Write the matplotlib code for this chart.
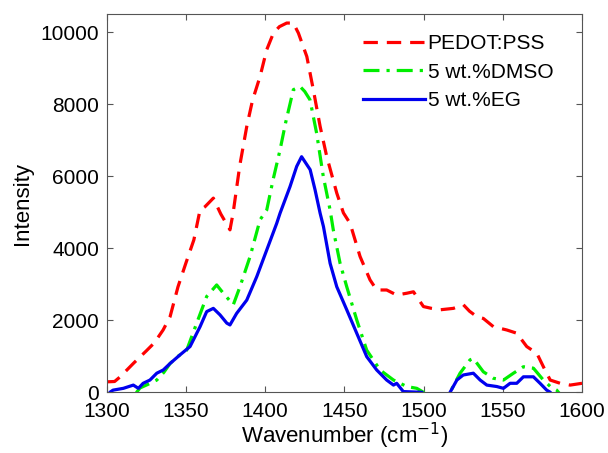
import matplotlib
matplotlib.use("Agg")
import numpy as np
import matplotlib.pyplot as plt

plt.rcParams["font.family"] = ["Liberation Sans", "DejaVu Sans"]

# Raman spectra, intensity vs wavenumber (cm^-1)
wn_pss = [1300, 1305, 1308.5, 1317, 1325, 1330, 1335.6, 1340, 1345, 1350, 1355,
          1358.9, 1362, 1367.3, 1372, 1377.8, 1379.8, 1384, 1388.4, 1392, 1396.8,
          1401, 1405.2, 1409, 1413.6, 1417.8, 1421, 1426.3, 1430.4, 1434.7,
          1438.9, 1445.2, 1449.4, 1453.6, 1459.9, 1466.2, 1470.4, 1476.7, 1483,
          1489.4, 1493.6, 1499.9, 1505, 1510.4, 1518.8, 1525.1, 1529, 1533.6,
          1537.7, 1544.1, 1552.5, 1558.8, 1565.1, 1571.5, 1575.6, 1579.9,
          1586.2, 1592.5, 1600]
int_pss = [290, 300, 430, 810, 1150, 1370, 1730, 2100, 2930, 3590, 4230,
           5060, 5150, 5390, 4950, 4510, 4980, 6300, 7380, 8100, 8770,
           9510, 9970, 10150, 10250, 10250, 9970, 9320, 8400, 7380,
           6540, 5530, 4980, 4690, 3770, 3120, 2840, 2840, 2700,
           2750, 2790, 2380, 2330, 2290, 2330, 2430, 2250, 2100,
           2050, 1820, 1730, 1640, 1270, 1080, 710, 340,
           250, 200, 250]

wn_dmso = [1300, 1310, 1318, 1321, 1326, 1331.6, 1336, 1340, 1345, 1350.5, 1356.8,
           1363.1, 1369.4, 1373.6, 1379.9, 1384.1, 1390.5, 1396.8, 1401, 1405,
           1409.4, 1413, 1417.8, 1422, 1425, 1428.3, 1432.5, 1436.7, 1441, 1443,
           1447.3, 1451.5, 1457.8, 1464.1, 1472.5, 1481, 1489.4, 1495.7, 1500,
           1503, 1512, 1516.7, 1523, 1529.3, 1531.4, 1537.7, 1544, 1550.4,
           1556.7, 1563, 1569.3, 1575.6, 1580, 1584, 1587, 1600]
int_dmso = [-300, -300, -50, 120, 220, 340, 550, 800, 1000, 1170, 1920,
            2660, 2980, 2750, 2430, 2930, 3770, 4790, 5060, 5900,
            6730, 7500, 8400, 8490, 8350, 8120, 7190, 5990, 5060, 4510,
            3580, 2930, 2010, 1170, 620, 340, 160, 110, 0,
            -300, -300, 0, 530, 900, 940, 570, 390, 340,
            530, 710, 670, 340, 160, 60, -100, -300]

wn_eg = [1300, 1302, 1304, 1310.5, 1316.8, 1320, 1323, 1327.3, 1331.6, 1335.7,
         1340, 1346.3, 1352.6, 1358.9, 1363.1, 1367.3, 1371.5, 1375.8, 1377.8,
         1382, 1388.4, 1394.7, 1401, 1407.3, 1409.4, 1415.7, 1419.9, 1423,
         1428.4, 1431.5, 1434.7, 1436.8, 1441, 1445.2, 1451.5, 1457.8, 1464.1,
         1470.4, 1476.7, 1481, 1483, 1487.2, 1499, 1502, 1514, 1516.7, 1521,
         1525, 1531.4, 1535.7, 1539.9, 1546.2, 1550.4, 1554.6, 1558.8, 1563,
         1569.3, 1573.5, 1577.7, 1580, 1583, 1600]
int_eg = [-300, 0, 60, 110, 200, 110, 250, 340, 530, 620,
          800, 1040, 1270, 1820, 2240, 2330, 2150, 1920, 1870,
          2190, 2560, 3210, 3950, 4690, 4970, 5710, 6270, 6540,
          6180, 5620, 4970, 4600, 3580, 2930, 2290, 1640, 990,
          620, 340, 200, 250, 20, 0, -300, -300, 0, 340,
          480, 530, 340, 200, 160, 110, 250, 250, 430,
          430, 250, 60, 0, -300, -300]

fig = plt.figure(figsize=(6.08, 4.53), dpi=100)
ax = fig.add_axes([0.1755, 0.134, 0.7818, 0.835])

ax.plot(wn_pss, int_pss, color="#ff0000", linestyle=(0, (4.5, 2.8)), lw=2.3,
        label="PEDOT:PSS")
ax.plot(wn_dmso, int_dmso, color="#00ee00", linestyle=(0, (5, 2.2, 1, 2.2)), lw=2.3,
        label="5 wt.%DMSO")
ax.plot(wn_eg, int_eg, color="#0000ee", linestyle="-", lw=2.3,
        label="5 wt.%EG")

ax.set_xlim(1300, 1600)
ax.set_ylim(0, 10500)
ax.set_xticks([1300, 1350, 1400, 1450, 1500, 1550, 1600])
ax.set_yticks([0, 2000, 4000, 6000, 8000, 10000])
ax.tick_params(direction="in", length=4, width=0.8, top=True, right=True,
               labelsize=15, colors="#555555", labelcolor="black")
ax.tick_params(axis="y", pad=5.5)
ax.tick_params(axis="x", pad=7)
for s in ax.spines.values():
    s.set_color("#555555")
    s.set_linewidth(0.8)

ax.set_xlabel("Wavenumber (cm$^{-1}$)", fontsize=16, labelpad=0)
ax.set_ylabel("Intensity", fontsize=16, labelpad=5)

ax.legend(loc="upper right", frameon=False, fontsize=15, handlelength=3.0,
          handletextpad=0.1, labelspacing=0.45, borderaxespad=0.3,
          bbox_to_anchor=(0.97, 0.985))

fig.savefig("out.png", dpi=100)
